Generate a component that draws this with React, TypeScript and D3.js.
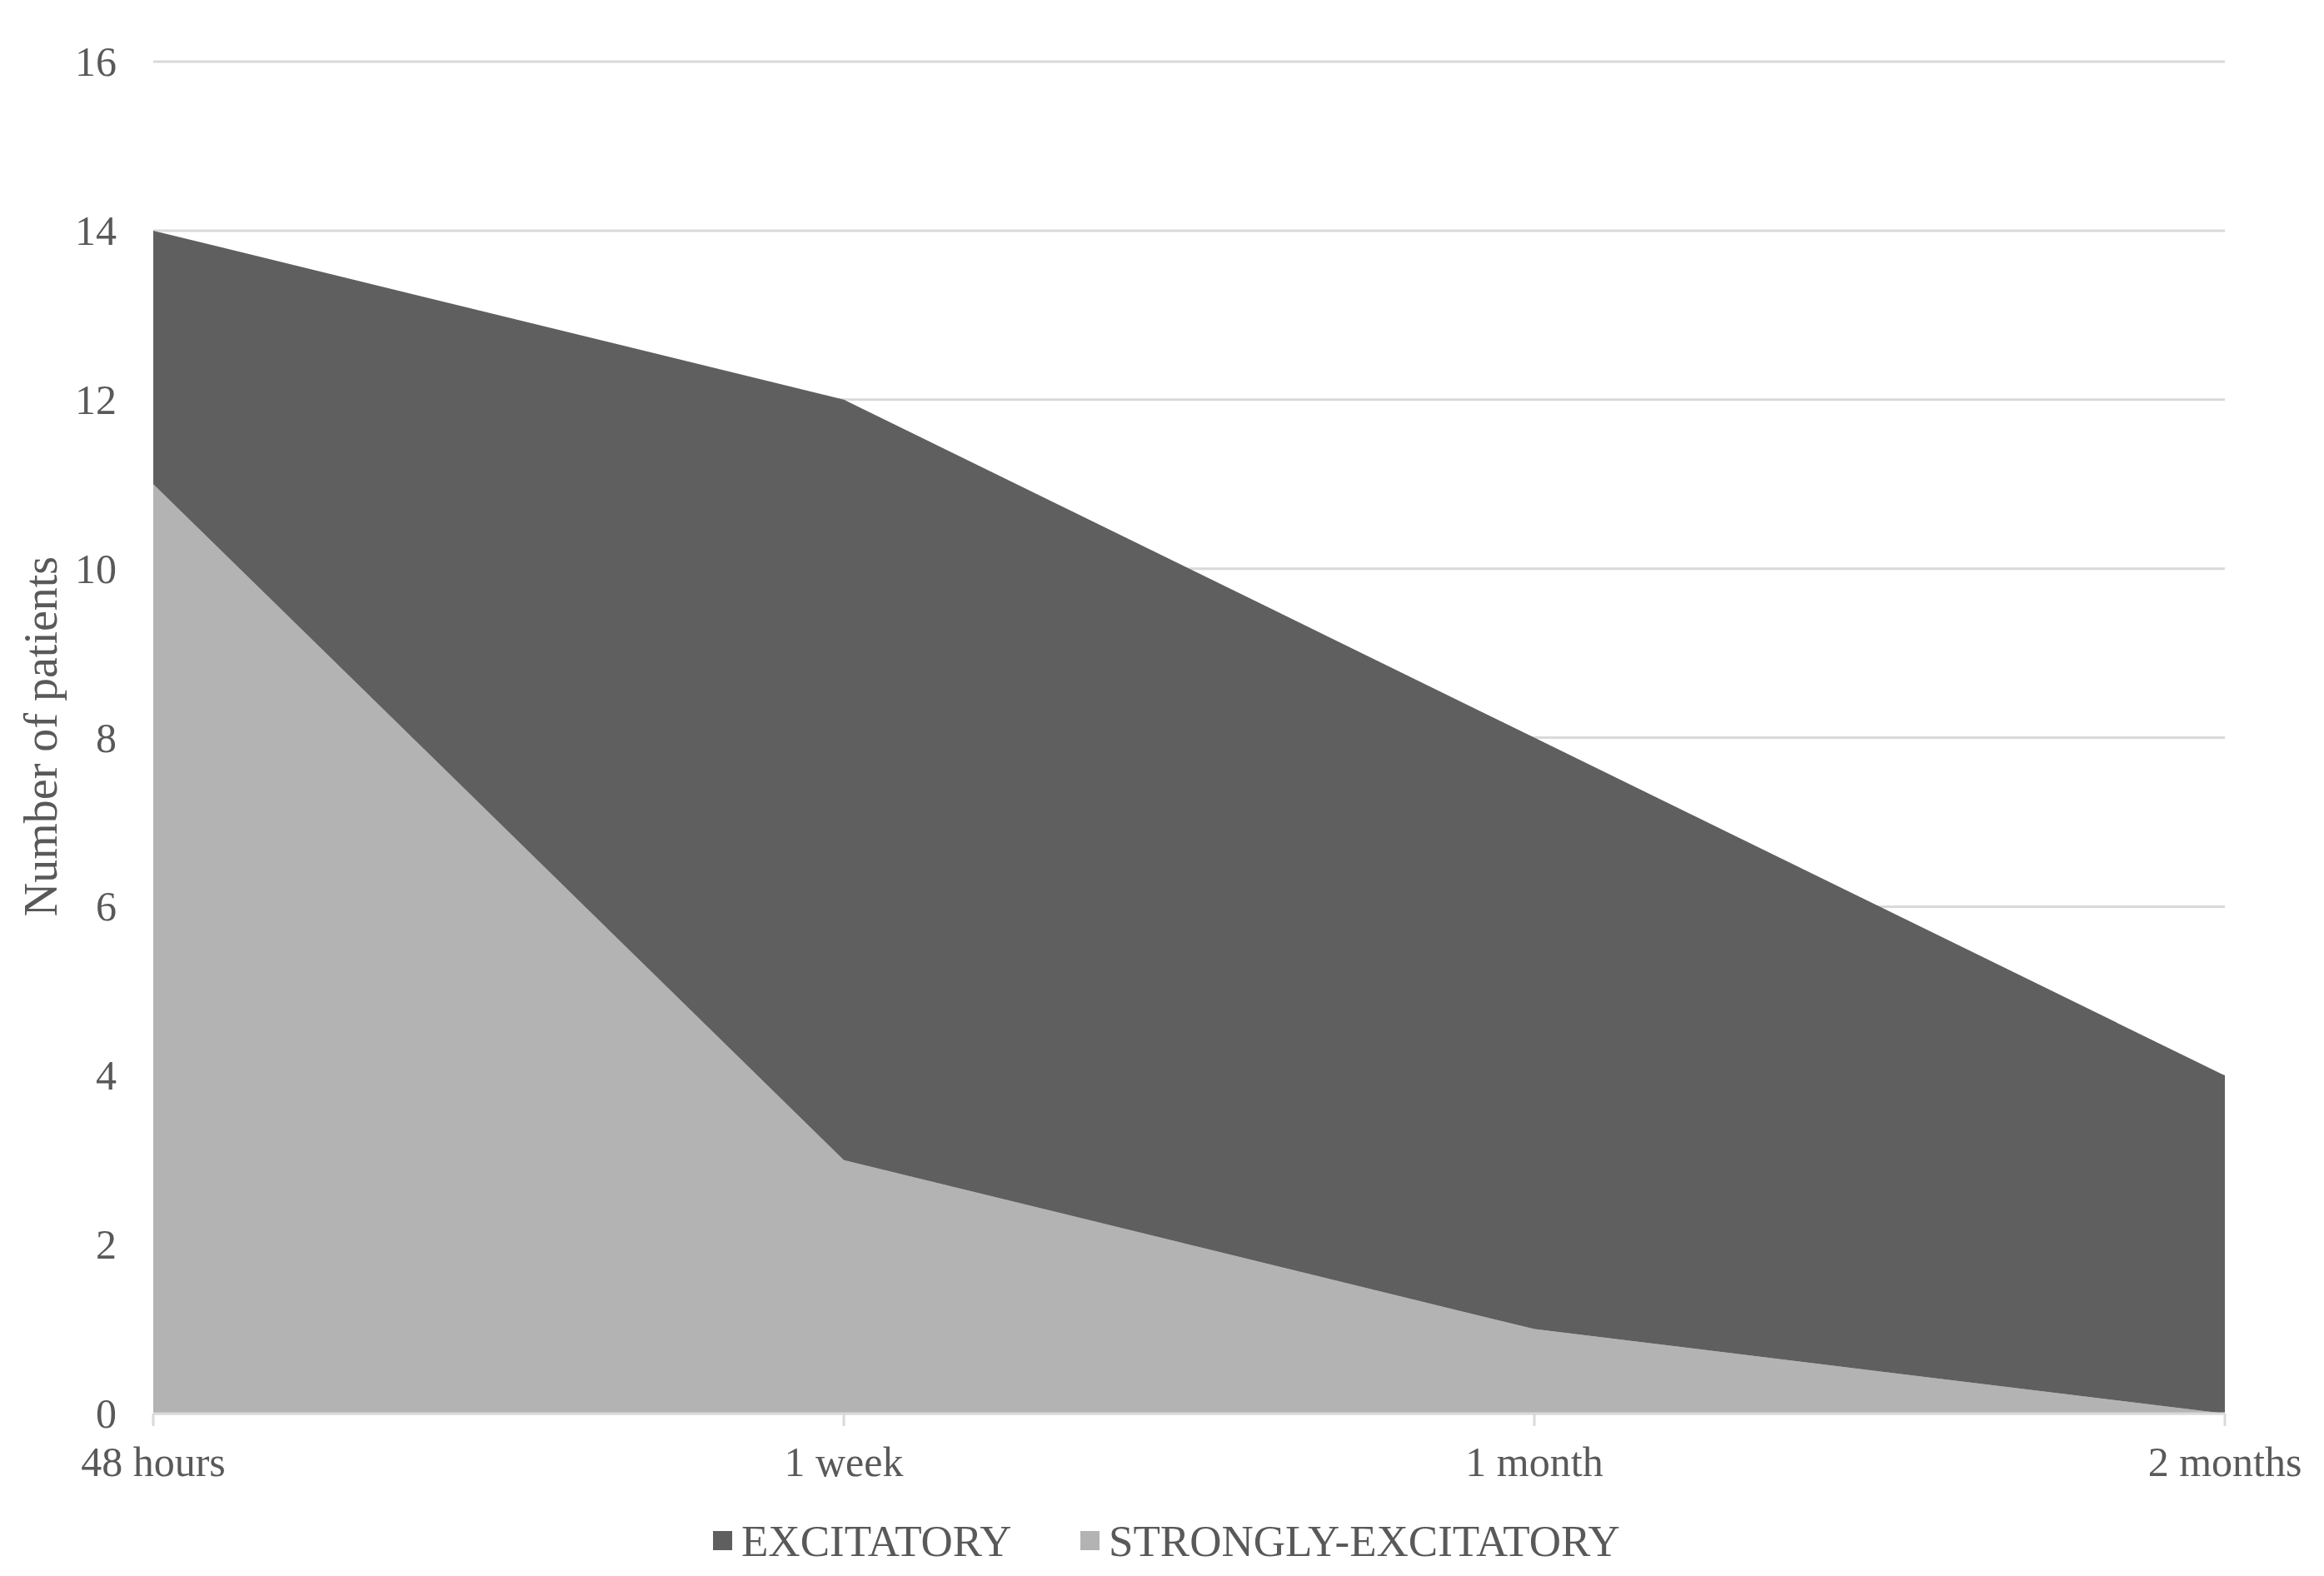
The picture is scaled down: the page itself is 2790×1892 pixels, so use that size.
import React from "react";
import * as d3 from "d3";

const categories = ["48 hours", "1 week", "1 month", "2 months"];
const excitatory = [3, 9, 7, 4];
const stronglyExcitatory = [11, 3, 1, 0];
const seriesNames = ["EXCITATORY", "STRONGLY-EXCITATORY"];
const yTicks = [0, 2, 4, 6, 8, 10, 12, 14, 16];

const W = 2790;
const H = 1892;
const left = 184;
const right = 2671;
const top = 74;
const bottom = 1697;

const FONT = "'Liberation Serif', 'Times New Roman', serif";
const TEXT = "#595959";
const DARK = "#5f5f5f";
const LIGHT = "#b3b3b3";
const GRID = "#d9d9d9";

export default function App() {
  const x = d3.scalePoint<string>().domain(categories).range([left, right]);
  const y = d3.scaleLinear().domain([0, 16]).range([bottom, top]);

  const rows = categories.map((c, i) => ({
    cat: c,
    strong: stronglyExcitatory[i],
    exc: excitatory[i],
  }));
  const stack = d3.stack<any>().keys(["strong", "exc"]);
  const layers = stack(rows);
  const area = d3
    .area<any>()
    .x((d) => x(d.data.cat) as number)
    .y0((d) => y(d[0]))
    .y1((d) => y(d[1]));
  const fills = [LIGHT, DARK];

  return (
    <svg
      width={W}
      height={H}
      style={{ position: "absolute", left: 0, top: 0, display: "block", background: "#fff" }}
    >
      {yTicks.map((t) => (
        <g key={t}>
          <line x1={left} x2={right} y1={y(t)} y2={y(t)} stroke={GRID} strokeWidth={3} />
          <text
            x={140}
            y={y(t) + 17}
            textAnchor="end"
            fontFamily={FONT}
            fontSize={50}
            fill={TEXT}
          >
            {t}
          </text>
        </g>
      ))}
      {layers.map((layer, i) => (
        <path key={i} d={area(layer as any) || ""} fill={fills[i]} />
      ))}
      <line x1={left} x2={right} y1={bottom} y2={bottom} stroke={GRID} strokeWidth={3} />
      {categories.map((c) => (
        <g key={c}>
          <line
            x1={x(c)}
            x2={x(c)}
            y1={bottom}
            y2={bottom + 15}
            stroke={GRID}
            strokeWidth={3}
          />
          <text
            x={x(c)}
            y={1772}
            textAnchor="middle"
            fontFamily={FONT}
            fontSize={50}
            fill={TEXT}
          >
            {c}
          </text>
        </g>
      ))}
      <text
        transform={`translate(68, 884) rotate(-90)`}
        textAnchor="middle"
        fontFamily={FONT}
        fontSize={56}
        fill={TEXT}
      >
        Number of patients
      </text>
      <g>
        <rect x={856} y={1838} width={23} height={23} fill={DARK} />
        <text x={890} y={1868} fontFamily={FONT} fontSize={53} fill={TEXT}>
          {seriesNames[0]}
        </text>
        <rect x={1297} y={1838} width={23} height={23} fill={LIGHT} />
        <text x={1331} y={1868} fontFamily={FONT} fontSize={53} fill={TEXT}>
          {seriesNames[1]}
        </text>
      </g>
    </svg>
  );
}
